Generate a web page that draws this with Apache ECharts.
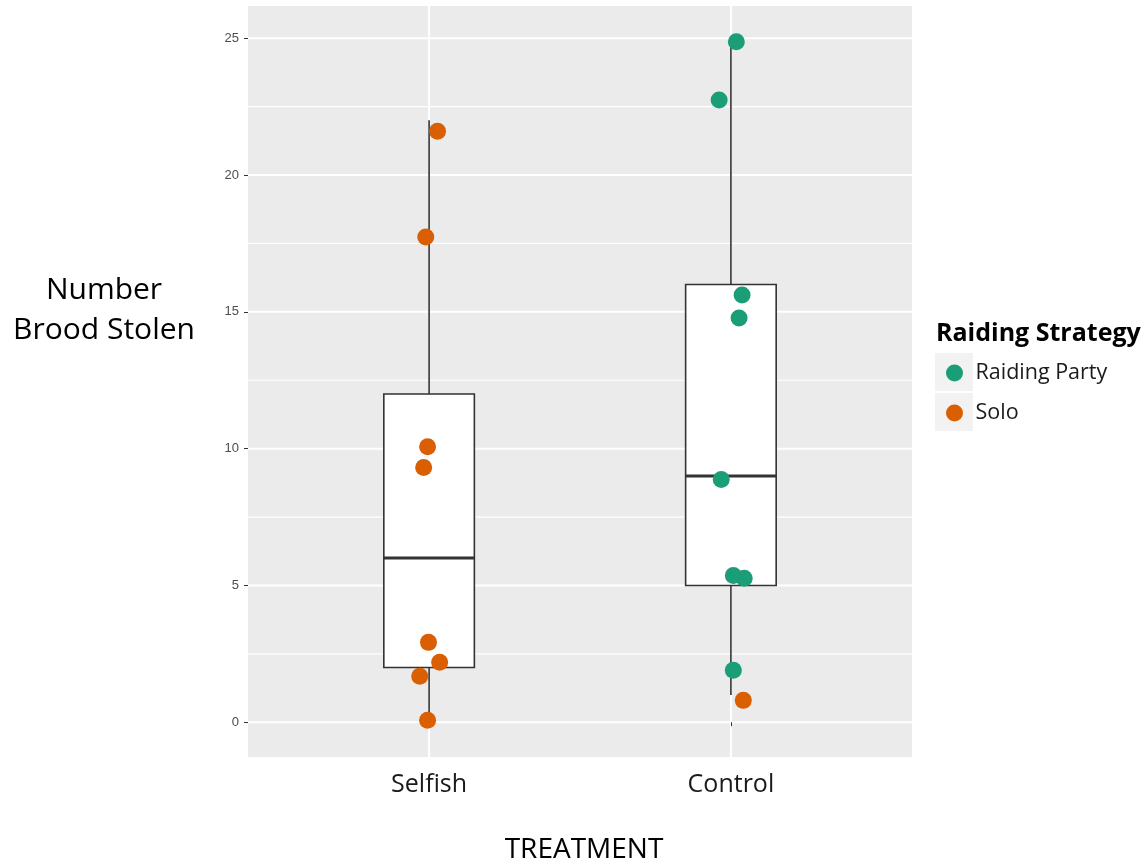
<!DOCTYPE html>
<html>
<head>
<meta charset="utf-8">
<script src="https://cdn.jsdelivr.net/npm/echarts@6/dist/echarts.min.js"></script>
<style>html,body{margin:0;padding:0;background:#fff}#c{width:1147px;height:867px}</style>
</head>
<body>
<div id="c"></div>
<script>
// ---- data ----
const categories = ['Selfish', 'Control'];
const categoryPos = [1, 2];
// [min, Q1, median, Q3, max]
const boxSelfish = [0, 2, 6, 12, 22];
const boxControl = [1, 5, 9, 16, 25];
// jittered points: [x position, value]
const soloPoints = [
  [1.028, 21.6], [0.989, 17.74], [0.995, 10.07], [0.982, 9.31],
  [0.998, 2.92], [1.035, 2.19], [0.969, 1.68], [0.995, 0.07],
  [2.041, 0.8]
];
const raidingPartyPoints = [
  [2.018, 24.87], [1.961, 22.74], [2.037, 15.62], [2.027, 14.78],
  [1.968, 8.87], [2.008, 5.36], [2.044, 5.26], [2.008, 1.9]
];
const yMajorTicks = [0, 5, 10, 15, 20, 25];
const yMinorTicks = [2.5, 7.5, 12.5, 17.5, 22.5];
const seriesNames = ['Raiding Party', 'Solo'];

const FONT = '"Open Sans", sans-serif';
const boxData = [
  [categoryPos[0]].concat(boxSelfish),
  [categoryPos[1]].concat(boxControl)
];

const chart = echarts.init(document.getElementById('c'));
chart.setOption({
  animation: false,
  backgroundColor: '#ffffff',
  grid: {
    left: 248, top: 6, right: 235, bottom: 110,
    show: true, backgroundColor: '#EBEBEB', borderWidth: 0
  },
  xAxis: {
    type: 'value', min: 0.4, max: 2.6,
    axisLine: { show: false },
    splitLine: { show: false },
    axisTick: { show: true, customValues: categoryPos, length: 4, lineStyle: { color: '#333', width: 1 } },
    axisLabel: {
      customValues: categoryPos,
      formatter: v => categories[Math.round(v) - 1],
      fontSize: 25, color: '#1a1a1a', fontFamily: FONT, margin: 15
    }
  },
  yAxis: {
    type: 'value', min: -1.27, max: 26.18,
    axisLine: { show: false },
    splitLine: { show: false },
    axisTick: { show: true, customValues: yMajorTicks, length: 4, lineStyle: { color: '#333', width: 1 } },
    axisLabel: { customValues: yMajorTicks, fontSize: 13, color: '#4d4d4d', fontFamily: '"Liberation Sans", Arial, sans-serif', margin: 9 }
  },
  legend: {
    data: seriesNames,
    orient: 'vertical', left: 941, top: 357,
    itemWidth: 32, itemHeight: 17, itemGap: 18,
    textStyle: { fontSize: 21.5, color: '#1a1a1a', fontFamily: FONT },
    selectedMode: false
  },
  graphic: [
    { type: 'rect', shape: { x: 935, y: 353, width: 38, height: 38 }, style: { fill: '#F2F2F2' }, z: 0 },
    { type: 'rect', shape: { x: 935, y: 393, width: 38, height: 38 }, style: { fill: '#F2F2F2' }, z: 0 },
    { type: 'text', x: 936, y: 334, style: { text: 'Raiding Strategy', font: 'bold 25px ' + FONT, fill: '#000', textVerticalAlign: 'middle', textAlign: 'left' } },
    { type: 'text', x: 104, y: 310, style: { text: 'Number\nBrood Stolen', font: '30px ' + FONT, lineHeight: 40, fill: '#000', textAlign: 'center', textVerticalAlign: 'middle' } },
    { type: 'text', x: 584, y: 850, style: { text: 'TREATMENT', font: '28px ' + FONT, fill: '#000', textAlign: 'center', textVerticalAlign: 'middle' } }
  ],
  series: [
    {
      type: 'custom', name: 'hgrid', silent: true, z: 0,
      data: yMajorTicks.map(v => [1.5, v, 2]).concat(yMinorTicks.map(v => [1.5, v, 1.2])),
      renderItem: (params, api) => {
        const cs = params.coordSys;
        const y = api.coord([1.5, api.value(1)])[1];
        return { type: 'line', shape: { x1: cs.x, y1: y, x2: cs.x + cs.width, y2: y }, style: { stroke: '#ffffff', lineWidth: api.value(2) } };
      }
    },
    {
      type: 'custom', name: 'vgrid', silent: true, z: 0,
      data: categoryPos.map(v => [v, 12]),
      renderItem: (params, api) => {
        const cs = params.coordSys;
        const x = api.coord([api.value(0), 12])[0];
        return { type: 'line', shape: { x1: x, y1: cs.y, x2: x, y2: cs.y + cs.height }, style: { stroke: '#ffffff', lineWidth: 2 } };
      }
    },
    {
      type: 'custom', name: 'box', silent: true, z: 2,
      data: boxData,
      renderItem: (params, api) => {
        const x = api.value(0);
        const hw = 0.15;
        const mn = api.coord([x, api.value(1)]);
        const q1 = api.coord([x, api.value(2)]);
        const md = api.coord([x, api.value(3)]);
        const q3 = api.coord([x, api.value(4)]);
        const mx = api.coord([x, api.value(5)]);
        const l = api.coord([x - hw, 0])[0];
        const r = api.coord([x + hw, 0])[0];
        const stroke = '#333333';
        return {
          type: 'group',
          children: [
            { type: 'line', shape: { x1: q3[0], y1: q3[1], x2: mx[0], y2: mx[1] }, style: { stroke, lineWidth: 1.6 } },
            { type: 'line', shape: { x1: q1[0], y1: q1[1], x2: mn[0], y2: mn[1] }, style: { stroke, lineWidth: 1.6 } },
            { type: 'rect', shape: { x: l, y: q3[1], width: r - l, height: q1[1] - q3[1] }, style: { fill: '#ffffff', stroke, lineWidth: 1.6 } },
            { type: 'line', shape: { x1: l, y1: md[1], x2: r, y2: md[1] }, style: { stroke, lineWidth: 3 } }
          ]
        };
      }
    },
    {
      type: 'scatter', name: seriesNames[0], z: 3,
      data: raidingPartyPoints, symbol: 'circle', symbolSize: 17,
      itemStyle: { color: '#1B9E77', opacity: 1 }
    },
    {
      type: 'scatter', name: seriesNames[1], z: 3,
      data: soloPoints, symbol: 'circle', symbolSize: 17,
      itemStyle: { color: '#D95F02', opacity: 1 }
    }
  ]
});
</script>
</body>
</html>
